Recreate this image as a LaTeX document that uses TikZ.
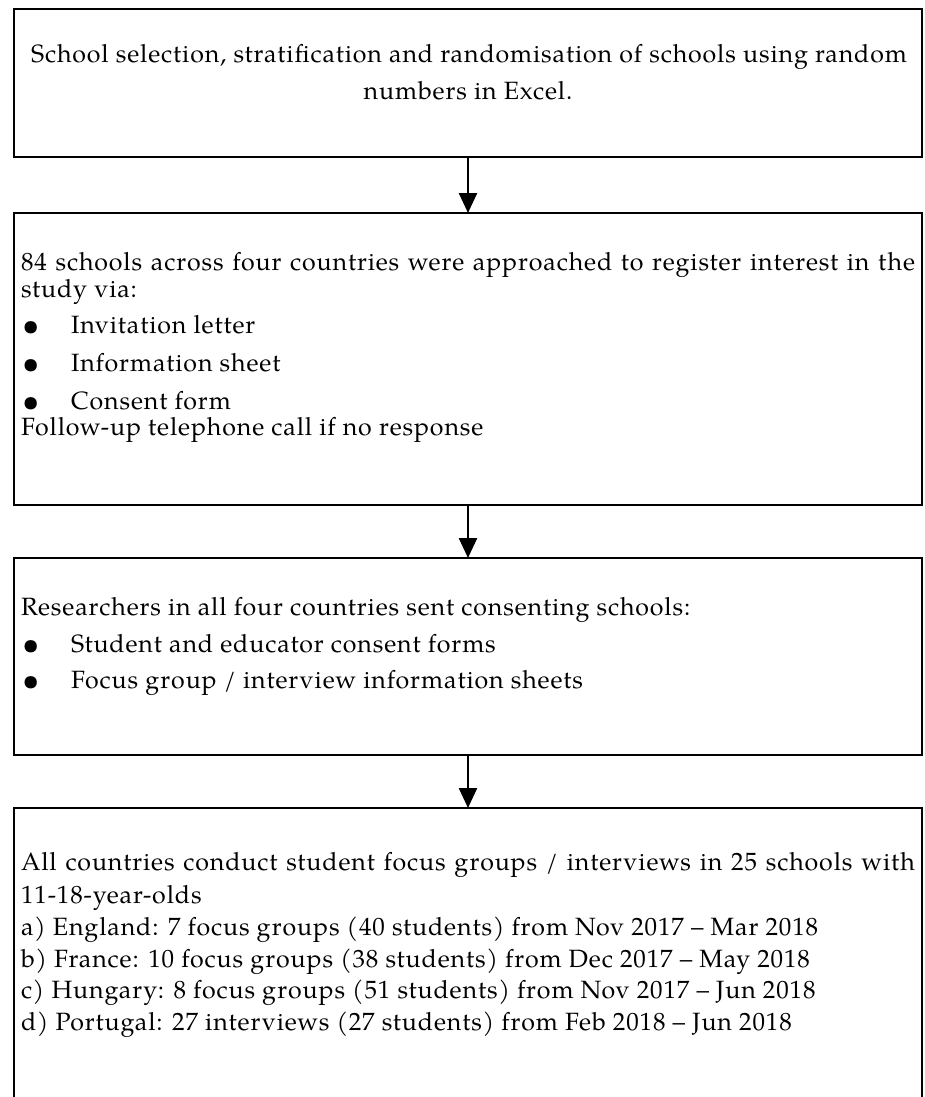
\documentclass[tikz,border=0pt]{standalone}
\usepackage{fontspec}
\setmainfont{texgyrepagella-regular.otf}
\newfontfamily\lsfont[LetterSpace=3.5]{texgyrepagella-regular.otf}
\usetikzlibrary{arrows.meta}
\newcommand\bul{\makebox[50pt][l]{\makebox[20pt][c]{\smash{\raisebox{-2pt}{\fontsize{31}{31}\selectfont\textbullet}}}}}
\begin{document}
\begin{tikzpicture}[x=1pt,y=-1pt,
  box/.style={draw=black,line width=2pt,rectangle,inner sep=0pt,outer sep=0pt,anchor=north west,minimum width=908pt},
  ln/.style={anchor=base west,inner sep=0pt,outer sep=0pt,font=\fontsize{25}{29}\lsfont},
  cl/.style={anchor=base,inner sep=0pt,outer sep=0pt,font=\fontsize{25}{29}\lsfont},
  arr/.style={line width=2.5pt,-{Triangle[length=20pt,width=18pt]}}]
\useasboundingbox (0,0) rectangle (924,1097);
\clip (0,0) rectangle (924,1097);
% boxes
\node[box,minimum height=148pt] (b1) at (14,9) {};
\node[box,minimum height=292pt] (b2) at (14,213) {};
\node[box,minimum height=197pt] (b3) at (14,558) {};
\node[box,minimum height=320pt] (b4) at (14,808) {};
% arrows
\draw[arr] (b1.south) -- (b2.north);
\draw[arr] (b2.south) -- (b3.north);
\draw[arr] (b3.south) -- (b4.north);
% box 1
\node[cl] (t11) at (469,63) {School selection, stratification and randomisation of schools using random};
\node[cl] (t12) at (468,100) {numbers in Excel.};
% box 2
\node[ln] (t21) at (21,270) {\makebox[894pt][s]{84 schools across four countries were approached to register interest in the}};
\node[ln] (t22) at (21,297) {study via:};
\node[ln] (t23) at (21,333) {\bul Invitation letter};
\node[ln] (t24) at (21,371) {\bul Information sheet};
\node[ln] (t25) at (21,409) {\bul Consent form};
\node[ln] (t26) at (21,435) {Follow-up telephone call if no response};
% box 3
\node[ln] (t31) at (21,615) {Researchers in all four countries sent consenting schools:};
\node[ln] (t32) at (21,652) {\bul Student and educator consent forms};
\node[ln] (t33) at (21,688) {\bul Focus group / interview information sheets};
% box 4
\node[ln] (t41) at (21,870) {\makebox[894pt][s]{All countries conduct student focus groups / interviews in 25 schools with}};
\node[ln] (t42) at (21,903) {11-18-year-olds};
\node[ln] (t43) at (21,935) {a) England: 7 focus groups (40 students) from Nov 2017 – Mar 2018};
\node[ln] (t44) at (21,967) {b) France: 10 focus groups (38 students) from Dec 2017 – May 2018};
\node[ln] (t45) at (21,998) {c) Hungary: 8 focus groups (51 students) from Nov 2017 – Jun 2018};
\node[ln] (t46) at (21,1030) {d) Portugal: 27 interviews (27 students) from Feb 2018 – Jun 2018};
\end{tikzpicture}
\end{document}
